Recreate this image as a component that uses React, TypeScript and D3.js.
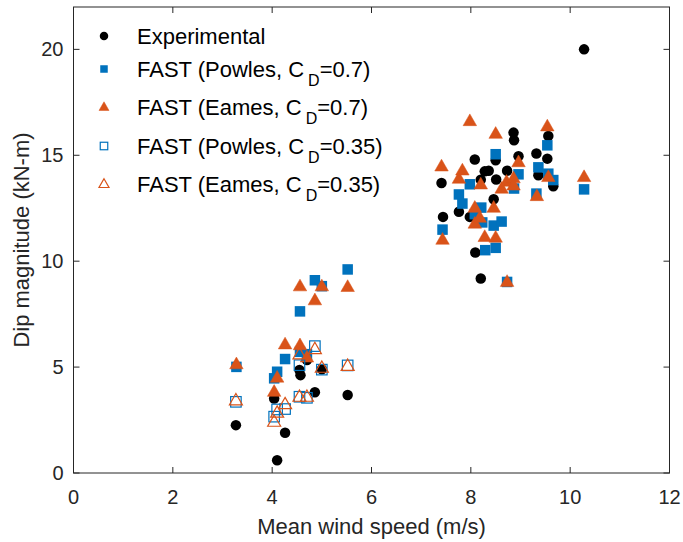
import React from "react";
import * as d3 from "d3";

// Experimental (black circles)
const expX = [3.27, 4.04, 4.10, 4.26, 4.55, 4.57, 4.70, 4.86, 5.00, 5.52,
  7.41, 7.44, 7.76, 7.98, 8.08, 8.09, 8.20, 8.20, 8.28, 8.36, 8.46, 8.50, 8.51, 8.73, 8.86, 8.87, 8.96, 9.32, 9.36, 9.54, 9.56, 9.66, 10.28];
const expY = [2.26, 3.52, 0.60, 1.90, 4.86, 4.62, 5.33, 3.81, 4.90, 3.68,
  13.69, 12.09, 12.33, 12.09, 14.80, 10.41, 13.85, 9.18, 14.24, 14.27, 12.92, 14.76, 13.86, 14.27, 16.07, 15.71, 14.95, 15.08, 14.06, 14.84, 15.91, 13.54, 20.0];

// FAST (Powles, CD=0.7) filled squares
const pow07X = [3.28, 4.04, 4.10, 4.26, 4.56, 4.56, 4.70, 4.86, 5.00, 5.52,
  7.43, 7.76, 7.83, 7.98, 8.08, 8.21, 8.23, 8.29, 8.46, 8.50, 8.50, 8.62, 8.73, 8.87, 8.96, 9.32, 9.36, 9.54, 9.56, 9.66, 10.28];
const pow07Y = [5.01, 4.47, 4.78, 5.38, 7.63, 5.72, 5.61, 9.10, 8.82, 9.61,
  11.49, 13.15, 12.72, 13.63, 12.22, 12.53, 11.83, 10.52, 11.68, 10.63, 15.05, 11.87, 9.02, 13.43, 14.10, 13.19, 14.43, 15.47, 14.13, 13.83, 13.39];

// FAST (Eames, CD=0.7) filled triangles
const eam07X = [3.28, 4.04, 4.10, 4.26, 4.56, 4.56, 4.70, 4.86, 5.00, 5.52,
  7.41, 7.43, 7.76, 7.83, 7.98, 8.08, 8.08, 8.18, 8.20, 8.28, 8.46, 8.50, 8.50, 8.62, 8.72, 8.73, 8.86, 8.86, 8.96, 9.33, 9.54, 9.56, 10.28];
const eam07Y = [5.14, 3.84, 4.51, 6.08, 8.82, 6.04, 5.46, 8.16, 8.82, 8.79,
  14.48, 11.02, 13.90, 14.29, 16.62, 12.53, 11.78, 12.06, 13.63, 11.15, 12.53, 16.02, 11.12, 13.43, 13.76, 9.03, 13.92, 13.58, 14.68, 13.08, 16.37, 13.98, 13.98];

// FAST (Powles, CD=0.35) open squares
const pow035X = [3.27, 4.04, 4.10, 4.26, 4.55, 4.55, 4.70, 4.86, 5.00, 5.52];
const pow035Y = [3.36, 2.66, 3.00, 3.02, 3.60, 5.09, 3.55, 5.99, 4.88, 5.08];

// FAST (Eames, CD=0.35) open triangles
const eam035X = [3.27, 4.04, 4.10, 4.26, 4.55, 4.55, 4.70, 4.86, 5.00, 5.52];
const eam035Y = [3.43, 2.42, 2.85, 3.25, 3.60, 5.60, 3.60, 5.85, 4.97, 5.06];

const xTicks = [0, 2, 4, 6, 8, 10, 12];
const yTicks = [0, 5, 10, 15, 20];

const BLUE = "#0072BD";
const ORANGE = "#D95319";
const AX = "#262626";
const FONT = "'Liberation Sans', Arial, Helvetica, sans-serif";

const W = 683, H = 542;
const L = 73.5, R = 669.5, T = 7, B = 473;

function tri(cx: number, cy: number, w: number) {
  const h = w * 0.87;
  return `M${cx},${cy - h * 0.6}L${cx + w / 2},${cy + h * 0.4}L${cx - w / 2},${cy + h * 0.4}Z`;
}

export default function App() {
  const x = d3.scaleLinear().domain([0, 12]).range([L, R]);
  const y = d3.scaleLinear().domain([0, 22]).range([B, T]);

  const legendItems = [
    { kind: "circle", main: "Experimental", val: null },
    { kind: "sq", main: "FAST (Powles, C", val: "=0.7)" },
    { kind: "tri", main: "FAST (Eames, C", val: "=0.7)" },
    { kind: "osq", main: "FAST (Powles, C", val: "=0.35)" },
    { kind: "otri", main: "FAST (Eames, C", val: "=0.35)" },
  ];
  const legendY = [36, 69, 107, 146, 184];

  const marker = (kind: string, cx: number, cy: number, s: number, key?: any) => {
    if (kind === "circle") return <circle key={key} cx={cx} cy={cy} r={s / 2} fill="#000" />;
    if (kind === "sq") return <rect key={key} x={cx - s / 2} y={cy - s / 2} width={s} height={s} fill={BLUE} />;
    if (kind === "osq") return <rect key={key} x={cx - s / 2} y={cy - s / 2} width={s} height={s} fill="none" stroke={BLUE} strokeWidth={1.2} />;
    if (kind === "tri") return <path key={key} d={tri(cx, cy, s)} fill={ORANGE} stroke={ORANGE} strokeWidth={0.5} />;
    return <path key={key} d={tri(cx, cy, s)} fill="none" stroke={ORANGE} strokeWidth={1.2} />;
  };

  return (
    <svg width={W} height={H} style={{ display: "block", position: "absolute", left: 0, top: 0, background: "#fff" }} fontFamily={FONT}>
      <rect x={0} y={0} width={W} height={H} fill="#fff" />
      {/* data */}
      {expX.map((v, i) => marker("circle", x(v), y(expY[i]), 10.5, "e" + i))}
      {pow07X.map((v, i) => marker("sq", x(v), y(pow07Y[i]), 10.5, "p" + i))}
      {eam07X.map((v, i) => marker("tri", x(v), y(eam07Y[i]), 13.5, "t" + i))}
      {pow035X.map((v, i) => marker("osq", x(v), y(pow035Y[i]), 10.5, "o" + i))}
      {eam035X.map((v, i) => marker("otri", x(v), y(eam035Y[i]), 13, "u" + i))}

      {/* axes box */}
      <rect x={L} y={T} width={R - L} height={B - T} fill="none" stroke={AX} strokeWidth={1} />
      {xTicks.map((t) => (
        <g key={"xt" + t}>
          <line x1={x(t)} x2={x(t)} y1={B} y2={B - 6} stroke={AX} />
          <line x1={x(t)} x2={x(t)} y1={T} y2={T + 6} stroke={AX} />
          <text x={x(t)} y={B + 31} textAnchor="middle" fontSize={20} fill={AX}>{t}</text>
        </g>
      ))}
      {yTicks.map((t) => (
        <g key={"yt" + t}>
          <line x1={L} x2={L + 6} y1={y(t)} y2={y(t)} stroke={AX} />
          <line x1={R} x2={R - 6} y1={y(t)} y2={y(t)} stroke={AX} />
          <text x={L - 10} y={y(t) + 7} textAnchor="end" fontSize={20} fill={AX}>{t}</text>
        </g>
      ))}
      <text x={(L + R) / 2} y={534} textAnchor="middle" fontSize={22} fill={AX}>Mean wind speed (m/s)</text>
      <text transform={`translate(29,${(T + B) / 2}) rotate(-90)`} textAnchor="middle" fontSize={22} fill={AX}>Dip magnitude (kN-m)</text>

      {/* legend */}
      {legendItems.map((it, i) => (
        <g key={"lg" + i}>
          {marker(it.kind, 104, legendY[i], it.kind === "circle" ? 8.5 : it.kind.includes("tri") ? 10 : 7.5)}
          <text x={137} y={legendY[i] + 8} fontSize={22} fill="#000">
            {it.main}
            {it.val && <tspan dx={4} dy={9} fontSize={16}>D</tspan>}
            {it.val && <tspan dy={-9} fontSize={22}>{it.val}</tspan>}
          </text>
        </g>
      ))}
    </svg>
  );
}
